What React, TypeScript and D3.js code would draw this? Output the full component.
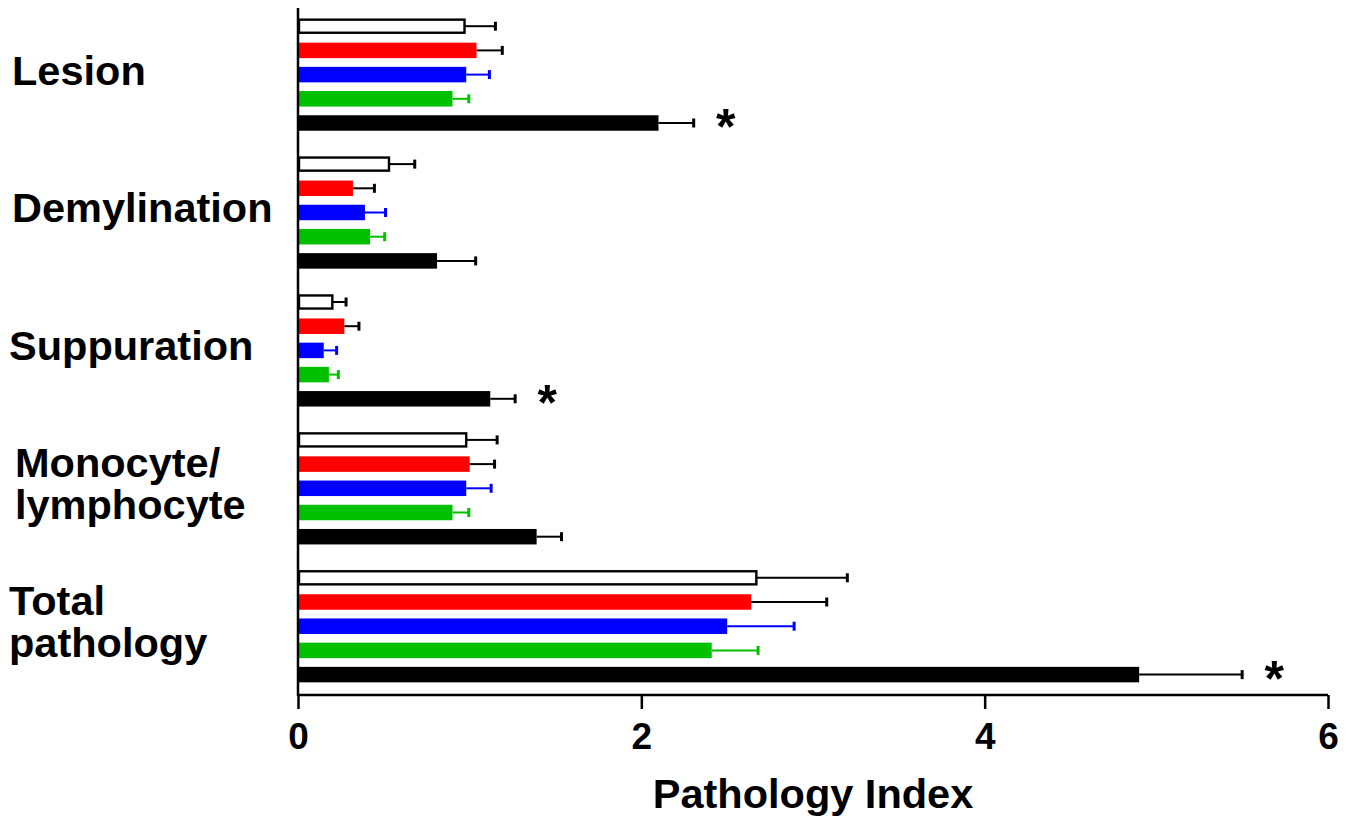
import { useRef, useEffect } from 'react'
import * as d3 from 'd3'

// categories, top to bottom
const groups = ['Lesion', 'Demylination', 'Suppuration', 'Monocyte/lymphocyte', 'Total pathology']
const groupLines = [['Lesion'], ['Demylination'], ['Suppuration'], ['Monocyte/', 'lymphocyte'], ['Total', 'pathology']]
const groupLabelX = [12, 12, 9, 15, 9]

// five treatment series (bar order within a group)
const seriesNames = ['s1', 's2', 's3', 's4', 's5']
const seriesFill = ['#ffffff', '#ff0000', '#0000ff', '#00c000', '#000000']
const seriesErrColor = ['#000000', '#000000', '#0000ff', '#00c000', '#000000']

// means
const s1Mean = [0.97, 0.53, 0.20, 0.98, 2.67]
const s2Mean = [1.04, 0.32, 0.27, 1.00, 2.64]
const s3Mean = [0.98, 0.39, 0.15, 0.98, 2.50]
const s4Mean = [0.90, 0.42, 0.18, 0.90, 2.41]
const s5Mean = [2.10, 0.81, 1.12, 1.39, 4.90]

// error (upper whisker length)
const s1Err = [0.18, 0.15, 0.08, 0.18, 0.53]
const s2Err = [0.15, 0.125, 0.085, 0.145, 0.44]
const s3Err = [0.135, 0.12, 0.075, 0.145, 0.39]
const s4Err = [0.095, 0.085, 0.055, 0.095, 0.27]
const s5Err = [0.205, 0.225, 0.145, 0.145, 0.60]

// significance markers for series s5
const significant = ['Lesion', 'Suppuration', 'Total pathology']

const xTicks = [0, 2, 4, 6]

const FONT = '"Liberation Sans", Arial, Helvetica, sans-serif'

function App() {
  const ref = useRef<SVGSVGElement>(null)

  useEffect(() => {
    document.body.style.margin = '0'
    const svg = d3.select(ref.current)
    svg.selectAll('*').remove()

    const means = [s1Mean, s2Mean, s3Mean, s4Mean, s5Mean]
    const errs = [s1Err, s2Err, s3Err, s4Err, s5Err]

    const x = d3.scaleLinear().domain([0, 6]).range([298, 1328])
    const yGroup = d3.scaleBand().domain(groups).range([14.1, 686.7]).paddingInner(0.1226).paddingOuter(0)
    const ySeries = d3.scaleBand().domain(seriesNames).range([0, yGroup.bandwidth()])
      .paddingInner(0.36).paddingOuter(0.18)

    const rows = []
    groups.forEach((g, gi) => {
      seriesNames.forEach((s, si) => {
        rows.push({ g, gi, s, si, v: means[si][gi], e: errs[si][gi] })
      })
    })

    const bh = ySeries.bandwidth()

    // error bars (drawn before bars)
    const eb = svg.append('g')
    rows.forEach(d => {
      const cy = yGroup(d.g) + ySeries(d.s) + bh / 2
      const col = seriesErrColor[d.si]
      eb.append('line')
        .attr('x1', x(d.v)).attr('x2', x(d.v + d.e))
        .attr('y1', cy).attr('y2', cy)
        .attr('stroke', col).attr('stroke-width', 2)
      eb.append('line')
        .attr('x1', x(d.v + d.e)).attr('x2', x(d.v + d.e))
        .attr('y1', cy - 4.5).attr('y2', cy + 4.5)
        .attr('stroke', col).attr('stroke-width', 3)
    })

    // bars
    svg.append('g').selectAll('rect')
      .data(rows)
      .enter()
      .append('rect')
      .attr('x', d => d.si === 0 ? x(0) + 1 : x(0))
      .attr('y', d => yGroup(d.g) + ySeries(d.s) + (d.si === 0 ? 1.2 : 0))
      .attr('width', d => x(d.v) - x(0) - (d.si === 0 ? 1 : 0))
      .attr('height', d => d.si === 0 ? bh - 2.4 : bh)
      .attr('fill', d => seriesFill[d.si])
      .attr('stroke', d => d.si === 0 ? '#000' : 'none')
      .attr('stroke-width', 2.4)

    // asterisks
    rows.filter(d => d.si === 4 && significant.includes(d.g)).forEach(d => {
      const cy = yGroup(d.g) + ySeries(d.s) + bh / 2
      svg.append('text')
        .attr('x', x(d.v + d.e) + 32)
        .attr('y', cy + 21)
        .attr('text-anchor', 'middle')
        .style('font', `bold 50px ${FONT}`)
        .attr('fill', '#000')
        .text('*')
    })

    // axes
    svg.append('line')
      .attr('x1', x(0)).attr('x2', x(0)).attr('y1', 8).attr('y2', 696)
      .attr('stroke', '#000').attr('stroke-width', 2.5)

    const xAxis = svg.append('g')
      .attr('transform', 'translate(0,695)')
      .call(d3.axisBottom(x).tickValues(xTicks).tickSize(14).tickPadding(14).tickFormat(d3.format('d')))
    xAxis.select('.domain').attr('stroke-width', 2.5).attr('d', `M${x(0)},0H${x(6)}`)
    xAxis.selectAll('.tick line').attr('stroke-width', 2.5)
    xAxis.selectAll('.tick text')
      .style('font', `bold 37px ${FONT}`)
      .attr('fill', '#000')
      .attr('dy', '0.71em')

    // category labels
    groups.forEach((g, gi) => {
      const lines = groupLines[gi]
      const cy = yGroup(g) + yGroup.bandwidth() / 2 - 5
      const lh = 42
      const first = cy + 15 - (lines.length - 1) * lh / 2
      const t = svg.append('text')
        .style('font', `bold 41.5px ${FONT}`)
        .attr('fill', '#000')
      lines.forEach((ln, li) => {
        t.append('tspan').attr('x', groupLabelX[gi]).attr('y', first + li * lh).text(ln)
      })
    })

    svg.append('text')
      .attr('x', (x(0) + x(6)) / 2)
      .attr('y', 808)
      .attr('text-anchor', 'middle')
      .style('font', `bold 41.5px ${FONT}`)
      .attr('fill', '#000')
      .text('Pathology Index')
  }, [])

  return (
    <svg ref={ref} width={1356} height={819} style={{ display: 'block', background: '#fff' }}></svg>
  )
}

export default App
